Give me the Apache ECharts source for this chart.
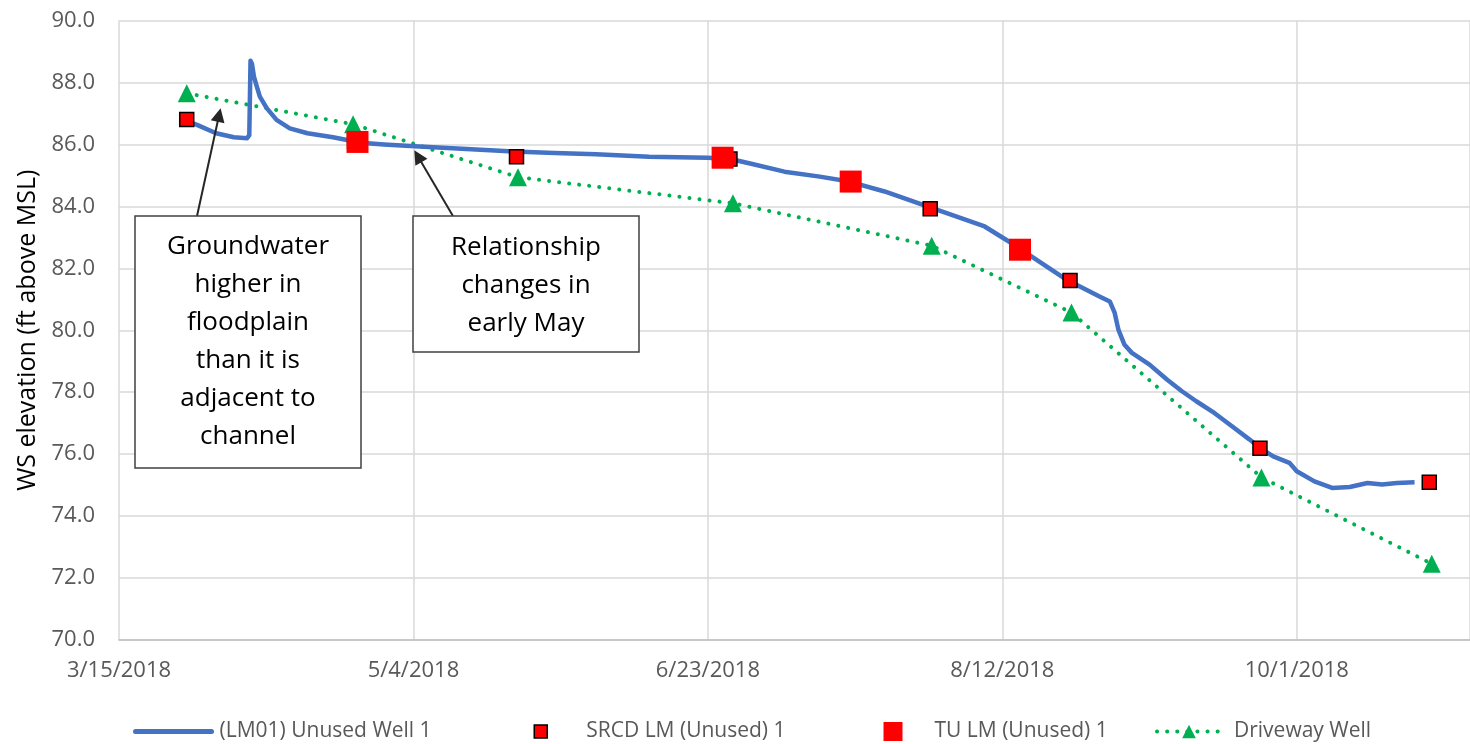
<!DOCTYPE html>
<html>
<head>
<meta charset="utf-8">
<title>WS elevation</title>
<script src="https://cdn.jsdelivr.net/npm/echarts@6/dist/echarts.min.js"></script>
<style>
html, body { margin: 0; padding: 0; background: #fff; }
#chart { width: 1470px; height: 744px; }
</style>
</head>
<body>
<div id="chart"></div>
<script>
// x axis runs in days counted from 3/15/2018, one tick every 50 days
const axisStart = '2018-03-15';
const axisEnd = '2018-10-30T10:00';
const tickDays = 50;
const yMin = 70;
const yMax = 90;
const yStep = 2;

// (LM01) Unused Well 1 - logger record
const lmDates = [
    '2018-03-26T12:00', '2018-03-28T06:00', '2018-03-31T12:00', '2018-04-03T12:00', '2018-04-05T18:00',
    '2018-04-06T03:00', '2018-04-06T08:00', '2018-04-06T14:00', '2018-04-06T22:00', '2018-04-07T10:00',
    '2018-04-07T22:00', '2018-04-09T02:00', '2018-04-10T18:00', '2018-04-13', '2018-04-16',
    '2018-04-20T08:00', '2018-04-22T12:00', '2018-04-24T12:00', '2018-04-29', '2018-05-05',
    '2018-05-13', '2018-05-21', '2018-05-28', '2018-06-04', '2018-06-13',
    '2018-06-23', '2018-06-27', '2018-06-30', '2018-07-06', '2018-07-12',
    '2018-07-17', '2018-07-23', '2018-07-31', '2018-08-09', '2018-08-14',
    '2018-08-17', '2018-08-23', '2018-08-28T12:00', '2018-08-30T06:00', '2018-08-31T02:00',
    '2018-08-31T17:00', '2018-09-01T18:00', '2018-09-03', '2018-09-06', '2018-09-09',
    '2018-09-11T12:00', '2018-09-14', '2018-09-17', '2018-09-20', '2018-09-23',
    '2018-09-24T18:00', '2018-09-27', '2018-09-29T18:00', '2018-10-01', '2018-10-04',
    '2018-10-07', '2018-10-10', '2018-10-13', '2018-10-15T12:00', '2018-10-18',
    '2018-10-21'
];
const lmValues = [
    86.75, 86.63, 86.36, 86.23, 86.20,
    86.30, 88.70, 88.60, 88.19, 87.86,
    87.54, 87.17, 86.79, 86.52, 86.36,
    86.23, 86.15, 86.06, 86.00, 85.93,
    85.85, 85.77, 85.72, 85.68, 85.60,
    85.57, 85.52, 85.39, 85.12, 84.96,
    84.80, 84.48, 83.95, 83.35, 82.76,
    82.38, 81.62, 81.09, 80.93, 80.56,
    80.02, 79.53, 79.27, 78.89, 78.40,
    78.03, 77.70, 77.33, 76.90, 76.47,
    76.20, 75.93, 75.72, 75.45, 75.12,
    74.91, 74.94, 75.07, 75.02, 75.07,
    75.09
];

// SRCD LM (Unused) 1 - manual readings
const srcdDates = ['2018-03-26T12:00', '2018-04-24', '2018-05-21T12:00', '2018-06-26T18:00',
    '2018-07-30T18:00', '2018-08-23T12:00', '2018-09-24T18:00', '2018-10-23T12:00'];
const srcdValues = [86.80, 86.10, 85.60, 85.53, 83.92, 81.61, 76.19, 75.09];

// TU LM (Unused) 1 - manual readings
const tuDates = ['2018-04-24T12:00', '2018-06-25T12:00', '2018-07-17T06:00', '2018-08-15'];
const tuValues = [86.08, 85.57, 84.80, 82.60];

// Driveway Well
const drivewayDates = ['2018-03-26T12:00', '2018-04-23T18:00', '2018-05-21T18:00', '2018-06-27T06:00',
    '2018-07-31', '2018-08-23T18:00', '2018-09-25', '2018-10-23T22:00'];
const drivewayValues = [87.65, 86.65, 84.94, 84.10, 82.73, 80.57, 75.25, 72.46];

// callout arrows: [tail date, tail value, tip date, tip value]
const arrowFloodplain = ['2018-03-28T06:00', 83.69, '2018-04-01T00:00', 86.95];
const arrowMay = ['2018-05-10T17:00', 83.69, '2018-05-04T18:00', 85.62];

const t0 = Date.parse(axisStart + 'T00:00Z');
// 日期 -> 天数
function toDay(s) {
    const full = s.length === 10 ? s + 'T00:00' : s;
    return (Date.parse(full + 'Z') - t0) / 864e5;
}
function dayLabel(d) {
    const dt = new Date(t0 + d * 864e5);
    return (dt.getUTCMonth() + 1) + '/' + dt.getUTCDate() + '/' + dt.getUTCFullYear();
}
function pairs(dates, values) {
    return dates.map((s, i) => [toDay(s), values[i]]);
}

const FONT = '"Open Sans", "Noto Sans", sans-serif';
const squareIcon = 'path://M0,0H10V10H0Z';
const legendText = { color: '#595959', fontSize: 21, fontFamily: FONT };

let myChart = echarts.init(document.getElementById('chart'));

let chartOptions = {
    animation: false,
    grid: { left: 119, right: 0, top: 20.5, bottom: 104, outerBoundsMode: 'none', containLabel: false },
    xAxis: {
        type: 'value',
        min: 0,
        max: toDay(axisEnd),
        interval: tickDays,
        axisLine: { show: true, lineStyle: { color: '#BFBFBF', width: 1.5 } },
        axisTick: { show: false },
        axisLabel: {
            formatter: dayLabel,
            showMaxLabel: false,
            color: '#595959',
            fontSize: 22,
            fontFamily: FONT,
            margin: 20
        },
        splitLine: { show: true, lineStyle: { color: '#D9D9D9', width: 1.5 } }
    },
    yAxis: {
        type: 'value',
        min: yMin,
        max: yMax,
        interval: yStep,
        name: 'WS elevation (ft above MSL)',
        nameLocation: 'middle',
        nameGap: 78,
        nameTextStyle: { color: '#000', fontSize: 25, fontFamily: FONT },
        axisLine: { show: false },
        axisTick: { show: false },
        axisLabel: {
            formatter: v => v.toFixed(1),
            color: '#595959',
            fontSize: 22,
            fontFamily: FONT,
            margin: 24
        },
        splitLine: { show: true, lineStyle: { color: '#D9D9D9', width: 1.5 } }
    },
    legend: [
        {
            data: ['(LM01) Unused Well 1'], left: 133, top: 721, padding: 0,
            itemWidth: 76, itemHeight: 14,
            lineStyle: { width: 5, cap: 'round' },
            // 隐藏线上的圆点
            itemStyle: { color: 'rgba(0,0,0,0)', borderWidth: 0, opacity: 0 },
            textStyle: Object.assign({ padding: [0, 0, 0, 3] }, legendText)
        },
        {
            data: ['SRCD LM (Unused) 1'], left: 533.5, top: 721, padding: 0,
            icon: squareIcon, itemWidth: 13, itemHeight: 13,
            itemStyle: { borderColor: '#000', borderWidth: 1.5 },
            textStyle: Object.assign({ padding: [0, 0, 0, 34] }, legendText)
        },
        {
            data: ['TU LM (Unused) 1'], left: 883.5, top: 721, padding: 0,
            icon: squareIcon, itemWidth: 19, itemHeight: 19,
            textStyle: Object.assign({ padding: [0, 0, 0, 27] }, legendText)
        },
        {
            data: ['Driveway Well'], left: 1155, top: 721, padding: 0,
            itemWidth: 64, itemHeight: 17,
            lineStyle: { width: 4, type: [0.1, 10], cap: 'round' },
            textStyle: Object.assign({ padding: [0, 0, 0, 8] }, legendText)
        }
    ],
    series: [
        {
            name: 'Driveway Well',
            type: 'line',
            z: 2,
            data: pairs(drivewayDates, drivewayValues),
            symbol: 'triangle',
            symbolSize: 18,
            showAllSymbol: true,
            itemStyle: { color: '#00B050' },
            lineStyle: { color: '#00B050', width: 4, type: [0.1, 10], cap: 'round' }
        },
        {
            name: '(LM01) Unused Well 1',
            type: 'line',
            z: 3,
            data: pairs(lmDates, lmValues),
            symbol: 'none',
            itemStyle: { color: '#4472C4' },
            lineStyle: { color: '#4472C4', width: 4.5, join: 'round' },
            // 标注箭头
            markLine: {
                silent: true,
                symbol: ['none', 'triangle'],
                symbolSize: 14,
                label: { show: false },
                lineStyle: { color: '#262626', width: 2, type: 'solid' },
                data: [arrowFloodplain, arrowMay].map(a => [
                    { coord: [toDay(a[0]), a[1]] },
                    { coord: [toDay(a[2]), a[3]] }
                ])
            }
        },
        {
            name: 'SRCD LM (Unused) 1',
            type: 'scatter',
            z: 4,
            data: pairs(srcdDates, srcdValues),
            symbol: 'rect',
            symbolSize: 14,
            itemStyle: { color: '#FF0000', borderColor: '#000', borderWidth: 1.5, opacity: 1 }
        },
        {
            name: 'TU LM (Unused) 1',
            type: 'scatter',
            z: 5,
            data: pairs(tuDates, tuValues),
            symbol: 'rect',
            symbolSize: 22,
            itemStyle: { color: '#FF0000', opacity: 1 }
        }
    ],
    graphic: [
        {
            type: 'rect', z: 100,
            shape: { x: 135, y: 216, width: 226, height: 252 },
            style: { fill: '#fff', stroke: '#404040', lineWidth: 1.5 }
        },
        {
            type: 'text', z: 101, x: 248, y: 228,
            style: {
                text: 'Groundwater\nhigher in\nfloodplain\nthan it is\nadjacent to\nchannel',
                fontSize: 26, fontFamily: FONT, fill: '#000',
                align: 'center', verticalAlign: 'top', lineHeight: 38
            }
        },
        {
            type: 'rect', z: 100,
            shape: { x: 413, y: 216, width: 226, height: 136 },
            style: { fill: '#fff', stroke: '#404040', lineWidth: 1.5 }
        },
        {
            type: 'text', z: 101, x: 526, y: 229,
            style: {
                text: 'Relationship\nchanges in\nearly May',
                fontSize: 26, fontFamily: FONT, fill: '#000',
                align: 'center', verticalAlign: 'top', lineHeight: 38
            }
        }
    ]
};

myChart.setOption(chartOptions, true);
window.addEventListener('resize', myChart.resize);
</script>
</body>
</html>
